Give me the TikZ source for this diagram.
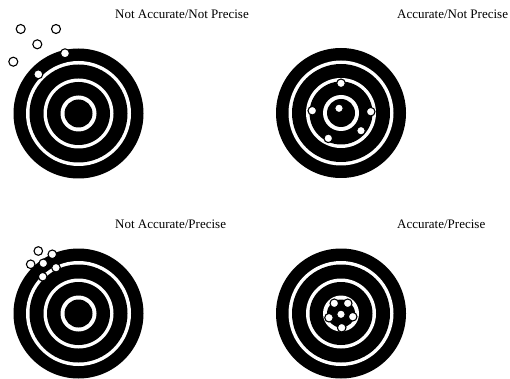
\documentclass[tikz,border=0pt]{standalone}
\usepackage{fontspec}
\setmainfont{Liberation Serif}
\usetikzlibrary{positioning}

\begin{document}
\begin{tikzpicture}[x=1pt, y=-1pt, every node/.style={font=\fontsize{13}{15}\selectfont, inner sep=0pt, anchor=base west}, shot/.style={draw=black, fill=white, line width=1.1pt}]
\useasboundingbox (0,0) rectangle (510,379);
\coordinate (nanp) at (78.5,113.5);
\coordinate (anp) at (341,113);
\coordinate (nap) at (78.5,313.5);
\coordinate (ap) at (341,313.5);
% targets
\foreach \t in {nanp,anp,nap,ap}
  \foreach \r/\c in {65/black,52.5/white,49/black,35/white,31.5/black,18/white,14/black}
    \fill[\c] (\t) circle[radius=\r pt];
% titles
\node (lnanp) at (115,18.3) {Not Accurate/Not Precise};
\node (lanp) at (397,18.3) {Accurate/Not Precise};
\node (lnap) at (115,228.3) {Not Accurate/Precise};
\node (lap) at (397,228.3) {Accurate/Precise};
% shots
\foreach \x/\y in {20.7/29,56/29,37.3/44.3,13.3/61.7,65/53.3,38.3/74.3}
  \draw[shot] (\x,\y) circle[radius=4.5pt];
\foreach \x/\y in {341/83.3,312.3/110.7,370.7/111.7,339/108.3,361/130.7,328.3/138.3}
  \draw[shot] (\x,\y) circle[radius=4.3pt];
\foreach \x/\y in {38.3/251,52.3/254.3,30.7/264.3,43.3/263.3,56/267.7,42.7/276.7}
  \draw[shot] (\x,\y) circle[radius=4.3pt];
\foreach \x/\y in {334.3/303.3,347.7/303.3,341/314.3,329/317.7,352.7/316.7,341.7/327.7}
  \draw[shot] (\x,\y) circle[radius=4.3pt];
\end{tikzpicture}
\end{document}
